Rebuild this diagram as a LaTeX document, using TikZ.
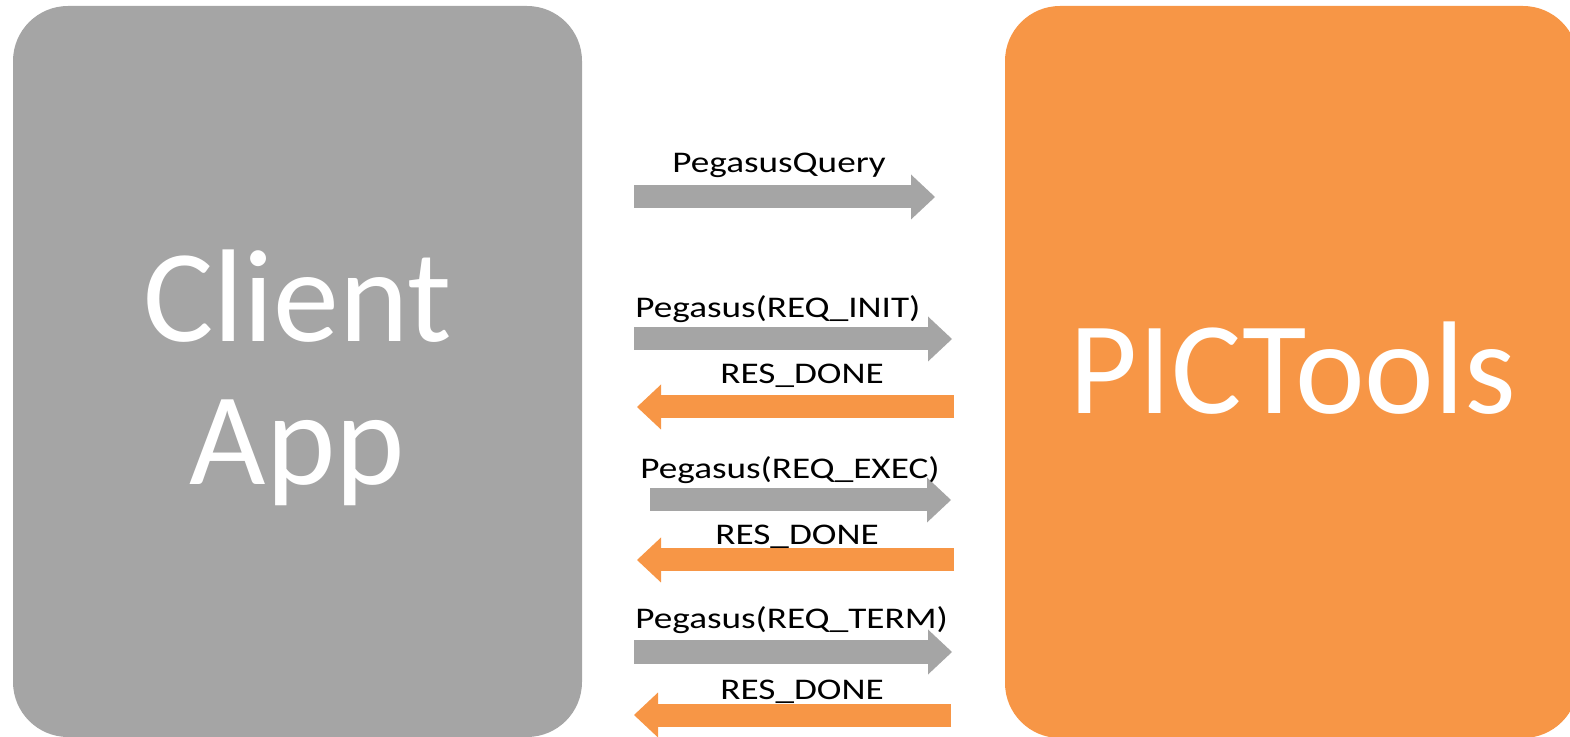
\documentclass[tikz,border=0pt]{standalone}
\usepackage{fontspec}
\setmainfont{Carlito}
\newfontfamily\msgfont[FakeStretch=1.24]{Carlito}
\usetikzlibrary{arrows.meta}
\definecolor{appgray}{RGB}{165,165,165}
\definecolor{toolorange}{RGB}{247,150,70}
\newcommand{\BlockArrow}[5]{
  \coordinate (#1s) at (#3,#5);
  \coordinate (#1e) at (#4,#5);
  \draw[#2, line width=11.5pt,
    -{Triangle[length=12pt,width=22.5pt,line width=0pt]}] (#1s) -- (#1e);
}
\tikzset{
  bigbox/.style={rounded corners=27.5pt, inner sep=0pt},
  bigtext/.style={inner sep=0pt, text=white, align=center,
    font=\fontsize{66}{71.5}\selectfont},
  msg/.style={anchor=base west, inner sep=0pt,
    font=\msgfont\fontsize{15}{18}\selectfont}
}
\begin{document}
\begin{tikzpicture}[x=0.5pt,y=-0.5pt]
  \useasboundingbox[clip] (0,0) rectangle (1570,737);

  \node[bigbox, fill=appgray, minimum width=284.5pt, minimum height=365.5pt]
    (client) at (297.5,371.5) {};
  \node[bigbox, fill=toolorange, minimum width=286.5pt, minimum height=366pt]
    (tools) at (1291.5,372) {};
  \node[bigtext, yshift=-3pt] (clientname) at (client.center) {Client\\App};
  \node[bigtext, yshift=2pt] (toolsname) at (1293,372) {PICTools};

  % requests
  \BlockArrow{query}{appgray}{634}{935}{197}
  \BlockArrow{init}{appgray}{634}{952}{339}
  \BlockArrow{exec}{appgray}{650}{951}{500}
  \BlockArrow{term}{appgray}{634}{952}{652}
  % responses
  \BlockArrow{doneA}{toolorange}{954}{637}{407}
  \BlockArrow{doneB}{toolorange}{954}{637}{560}
  \BlockArrow{doneC}{toolorange}{951}{634}{715}

  \node[msg] (lquery) at (672,173) {PegasusQuery};
  \node[msg] (linit) at (635,318) {Pegasus(REQ\_INIT)};
  \node[msg] (ldoneA) at (720,384) {RES\_DONE};
  \node[msg] (lexec) at (640,479) {Pegasus(REQ\_EXEC)};
  \node[msg] (ldoneB) at (715,545) {RES\_DONE};
  \node[msg] (lterm) at (635,629) {Pegasus(REQ\_TERM)};
  \node[msg] (ldoneC) at (720,699) {RES\_DONE};
\end{tikzpicture}
\end{document}
